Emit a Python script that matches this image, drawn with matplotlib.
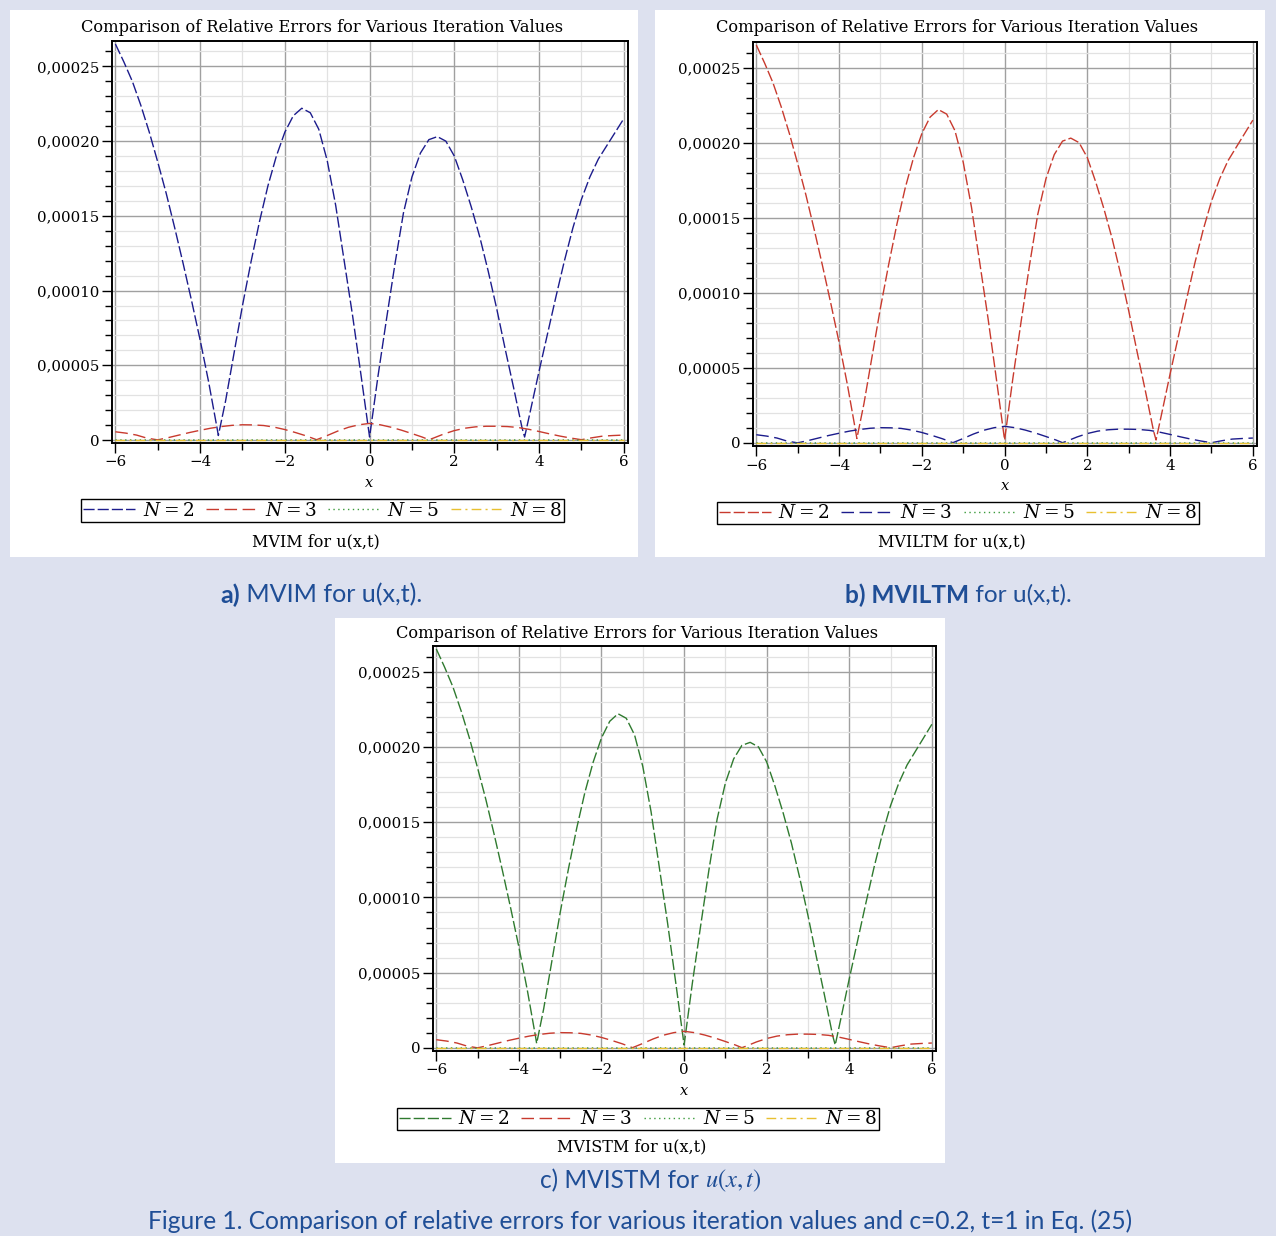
import matplotlib
matplotlib.use('Agg')
import matplotlib.pyplot as plt
from matplotlib.patches import Rectangle
from matplotlib.lines import Line2D
from matplotlib.ticker import MultipleLocator, FuncFormatter

plt.rcParams['mathtext.fontset'] = 'dejavuserif'

W, H = 1276, 1236
BG = '#dde1ef'
CAP = '#1f4e96'

# ---------------- data (relative errors) ----------------
x_n2 = [-6.0, -5.8, -5.6, -5.4, -5.2, -5.0, -4.8, -4.6, -4.4, -4.2, -4.0, -3.8, -3.6, -3.57,
        -3.4, -3.2, -3.0, -2.8, -2.6, -2.4, -2.2, -2.0, -1.8, -1.6, -1.4, -1.2, -1.0,
        -0.8, -0.6, -0.4, -0.2, 0.0,
        0.2, 0.4, 0.6, 0.8, 1.0, 1.2, 1.4, 1.6, 1.8, 2.0, 2.2, 2.4, 2.6, 2.8, 3.0,
        3.2, 3.4, 3.6, 3.66,
        3.8, 4.0, 4.2, 4.4, 4.6, 4.8, 5.0, 5.2, 5.4, 5.6, 5.8, 6.0]
err_n2 = [26.5, 25.3, 24.0, 22.4, 20.6, 18.6, 16.5, 14.2, 11.8, 9.3, 6.7, 3.9, 0.8, 0.3,
          2.6, 5.8, 9.0, 11.9, 14.6, 17.0, 19.0, 20.6, 21.7, 22.2, 21.9, 20.8, 18.7,
          15.7, 12.0, 8.3, 4.3, 0.2,
          4.3, 8.1, 11.8, 15.2, 17.6, 19.2, 20.1, 20.3, 20.0, 19.0, 17.4, 15.6, 13.6, 11.3, 8.8,
          6.1, 3.5, 0.8, 0.2,
          2.0, 4.6, 7.1, 9.6, 12.0, 14.2, 16.1, 17.6, 18.8, 19.7, 20.6, 21.5]   # x 1e-5

x_n3 = [-6.0, -5.75, -5.5, -5.25, -5.0, -4.75, -4.5, -4.25, -4.0, -3.75, -3.5, -3.25,
        -3.0, -2.75, -2.5, -2.25, -2.0, -1.75, -1.5, -1.25, -1.0, -0.75, -0.5, -0.25,
        0.0, 0.25, 0.5, 0.75, 1.0, 1.25, 1.4, 1.5, 1.75, 2.0, 2.25, 2.5, 2.75, 3.0,
        3.25, 3.5, 3.75, 4.0, 4.25, 4.5, 4.75, 5.0, 5.25, 5.5, 5.75, 6.0]
err_n3 = [5.5, 4.6, 3.3, 1.2, 0.1, 1.6, 3.3, 5.0, 6.5, 7.9, 9.0, 9.8,
          10.2, 10.1, 9.7, 8.6, 7.0, 5.0, 2.8, 0.2, 3.0, 6.0, 8.5, 10.2,
          11.1, 10.2, 8.6, 6.6, 4.3, 1.9, 0.2, 1.2, 4.0, 6.3, 7.9, 8.8, 9.2, 9.2,
          9.0, 8.4, 7.2, 5.7, 4.1, 2.6, 1.3, 0.2, 1.5, 2.6, 3.0, 3.3]         # x 1e-6

x_n5 = [-6.0, -4.0, -2.0, 0.0, 2.0, 4.0, 6.0]
err_n5 = [0.3, 0.2, 0.2, 0.3, 0.2, 0.2, 0.2]               # x 1e-7
x_n8 = [-6.0, -4.0, -2.0, 0.0, 2.0, 4.0, 6.0]
err_n8 = [0.1, 0.1, 0.1, 0.1, 0.1, 0.1, 0.1]               # x 1e-7

labels = ['$N = 2$', '$N = 3$', '$N = 5$', '$N = 8$']
y_ticks = [0, 0.00005, 0.00010, 0.00015, 0.00020, 0.00025]
x_ticks = [-6, -4, -2, 0, 2, 4, 6]

title_txt = 'Comparison of Relative Errors for Various Iteration Values'
sub_a = 'MVIM for u(x,t)'
sub_b = 'MVILTM for u(x,t)'
sub_c = 'MVISTM for u(x,t)'

BLUE = '#1c1c8c'
RED = '#c83a2e'
GREEN = '#2f7a2f'
DGREEN = '#3a9a3a'
GOLD = '#e8c030'

S2 = (0, (8, 2.2))
S3 = (0, (9, 4))
S5 = (0, (1, 2.5))
S8 = (0, (7, 3, 1.5, 3))

fig = plt.figure(figsize=(W / 100, H / 100), dpi=100, facecolor=BG)


def px_rect(l, t, r, b):
    return [l / W, 1 - b / H, (r - l) / W, (b - t) / H]


def fx(x):
    return x / W


def fy(y):
    return 1 - y / H


for (l, t, r, b) in [(10, 10, 638, 557), (655, 10, 1265, 557), (335, 618, 945, 1163)]:
    fig.patches.append(Rectangle((fx(l), fy(b)), (r - l) / W, (b - t) / H,
                                 transform=fig.transFigure, facecolor='white',
                                 edgecolor='none', zorder=-10))

yfmt = FuncFormatter(lambda v, p: '0' if abs(v) < 1e-12 else f'{v:.5f}'.replace('.', ','))


def make_panel(rect, colors, title_y, title_x, xlab_y, leg_box, sub_xy, sub_txt):
    ax = fig.add_axes(px_rect(*rect))
    ax.set_xlim(-6.08, 6.1)
    ax.set_ylim(-2e-6, 2.67e-4)
    ax.set_axisbelow(True)
    series = [
        (x_n2, [v * 1e-5 for v in err_n2], colors[0], S2),
        (x_n3, [v * 1e-6 for v in err_n3], colors[1], S3),
        (x_n5, [v * 1e-7 for v in err_n5], colors[2], S5),
        (x_n8, [v * 1e-7 for v in err_n8], colors[3], S8),
    ]
    handles = []
    for (xs, ys, c, ls), lab in zip(series, labels):
        ax.plot(xs, ys, color=c, lw=1.0, linestyle=ls, label=lab)
        handles.append(Line2D([], [], color=c, lw=1.0, linestyle=ls))
    ax.set_xticks(x_ticks)
    ax.xaxis.set_minor_locator(MultipleLocator(1))
    ax.set_yticks(y_ticks)
    ax.yaxis.set_minor_locator(MultipleLocator(1e-5))
    ax.yaxis.set_major_formatter(yfmt)
    ax.grid(which='major', color='#a0a0a0', lw=1.0)
    ax.grid(which='minor', color='#e2e2e2', lw=0.9)
    ax.tick_params(which='major', direction='out', length=7, width=1, colors='black',
                   labelsize=10.8, pad=2)
    ax.tick_params(which='minor', direction='out', length=5, width=1, colors='black')
    for lab in ax.get_xticklabels() + ax.get_yticklabels():
        lab.set_fontfamily('DejaVu Serif')
    for s in ax.spines.values():
        s.set_linewidth(1.4)
        s.set_color('black')
    fig.text(fx(title_x), fy(title_y), title_txt, ha='center', va='center',
             family='DejaVu Serif', fontsize=11.7)
    fig.text(fx(rect[0] + (0 + 6.08) / 12.18 * (rect[2] - rect[0])), fy(xlab_y), 'x',
             ha='center', va='center', family='DejaVu Serif', style='italic', fontsize=10.5)
    l, t, r, b = leg_box
    leg = fig.legend(handles, labels, loc='center',
                     bbox_to_anchor=(fx((l + r) / 2), fy((t + b) / 2)),
                     ncol=4, frameon=True, fancybox=False, shadow=False,
                     edgecolor='black', facecolor='white', framealpha=1,
                     fontsize=13.3, handlelength=2.8, handletextpad=0.4,
                     columnspacing=0.65, borderpad=0.12, borderaxespad=0)
    leg.get_frame().set_linewidth(1.0)
    fig.text(fx(sub_xy[0]), fy(sub_xy[1]), sub_txt, ha='center', va='center',
             family='DejaVu Serif', fontsize=11.5)
    return ax


make_panel((112, 41, 628, 443), [BLUE, RED, DGREEN, GOLD], 28, 322, 483,
           (76, 498, 569, 523), (316, 542), sub_a)
make_panel((753, 42, 1257, 446), [RED, BLUE, DGREEN, GOLD], 28, 957, 486,
           (719, 500, 1197, 526), (952, 542), sub_b)
make_panel((433, 646, 936, 1051), [GREEN, RED, DGREEN, GOLD], 634, 637, 1091,
           (399, 1106, 877, 1132), (632, 1147), sub_c)

# ---------------- captions ----------------
fig.canvas.draw()
renderer = fig.canvas.get_renderer()
CAPFONT = 'Lato'


def rich_text(pieces, cx, cy, target_w=None, size=15.0):
    def build(sz):
        arts = []
        for txt, wt in pieces:
            arts.append(fig.text(0, 0, txt, family=CAPFONT, fontsize=sz, weight=wt,
                                 color=CAP, ha='left', va='center', math_fontfamily='stix'))
        return arts
    arts = build(size)
    if target_w is not None:
        total = sum(a.get_window_extent(renderer).width for a in arts)
        size = size * target_w / total
        for a in arts:
            a.remove()
        arts = build(size)
    widths = [a.get_window_extent(renderer).width for a in arts]
    x0 = cx - sum(widths) / 2
    for a, w in zip(arts, widths):
        a.set_position((fx(x0), fy(cy)))
        x0 += w
    return size


cap_size = rich_text([('Figure 1. Comparison of relative errors for various iteration values and c=0.2, t=1 in Eq. (25)',
                       'normal')], 640, 1221, 987)
rich_text([('a)', 'bold'), (' MVIM for u(x,t).', 'normal')], 321, 595, 202)
rich_text([('b) MVILTM', 'bold'), (' for u(x,t).', 'normal')], 958, 595, 227)
rich_text([('c) MVISTM for ', 'normal'), ('$u(x,t)$', 'normal')], 651, 1181, None, cap_size)

fig.savefig('out.png', dpi=100, facecolor=BG)
